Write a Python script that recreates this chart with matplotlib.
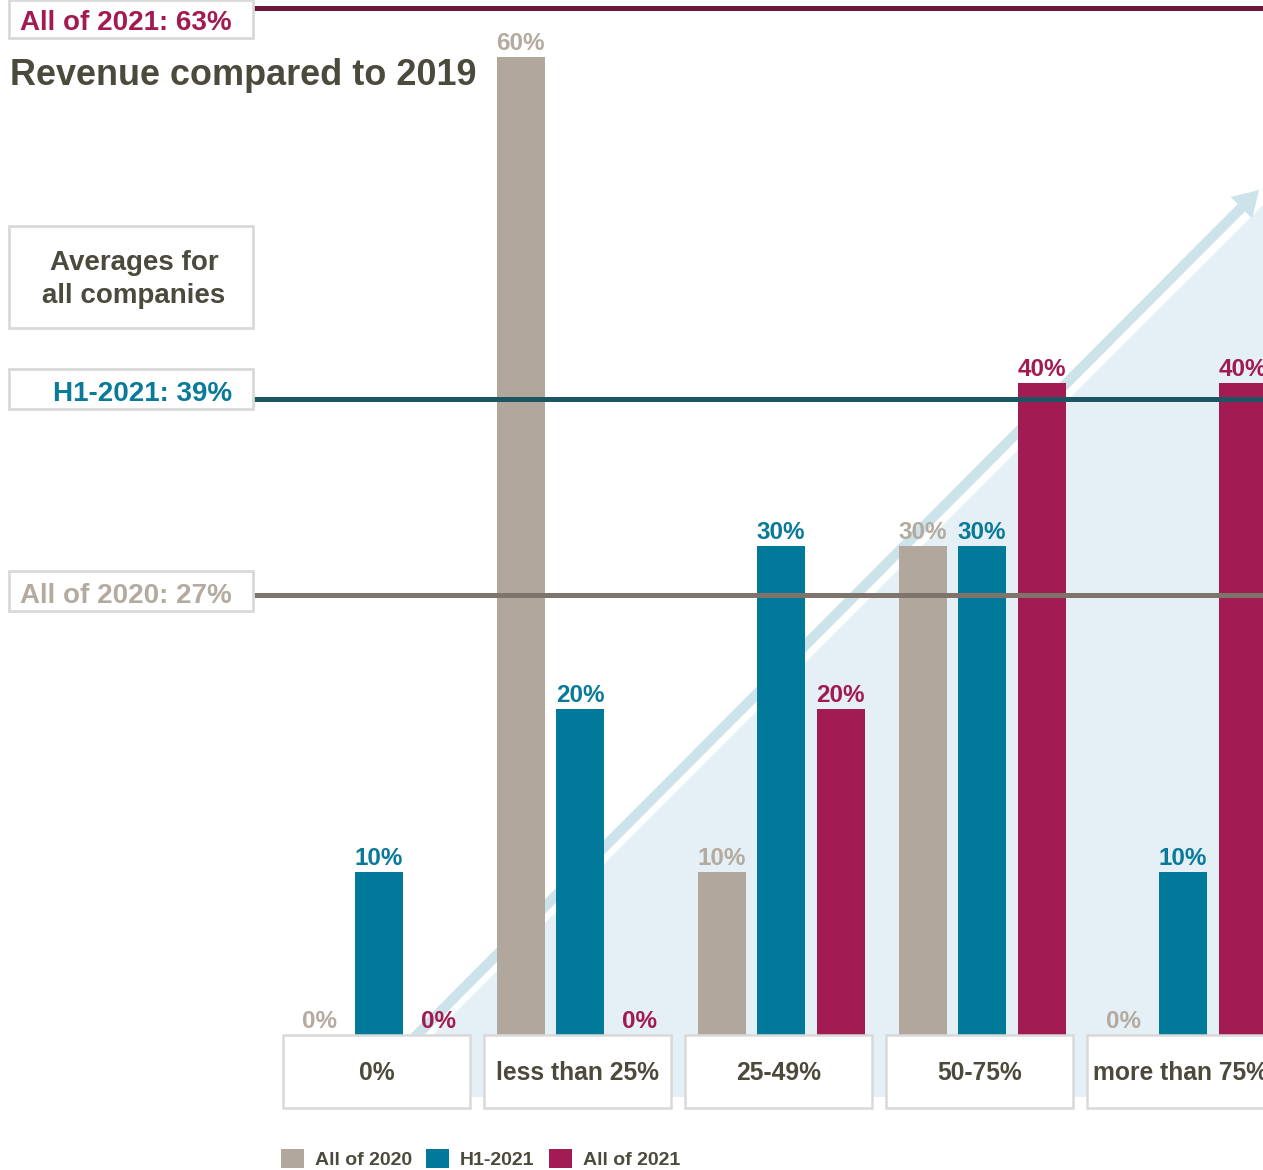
import numpy as np
import matplotlib
matplotlib.use("Agg")
import matplotlib.pyplot as plt
from matplotlib.patches import Rectangle, Polygon
import matplotlib.transforms as mtransforms

plt.rcParams["font.family"] = ["Liberation Sans", "DejaVu Sans"]
plt.rcParams["font.weight"] = "bold"

categories = ["0%", "less than 25%", "25-49%", "50-75%", "more than 75%"]
series_names = ["All of 2020", "H1-2021", "All of 2021"]
all_2020 = [0, 60, 10, 30, 0]
h1_2021 = [10, 20, 30, 30, 10]
all_2021 = [0, 0, 20, 40, 40]
avg_names = ["All of 2020", "H1-2021", "All of 2021"]
avg_values = [27, 39, 63]

bar_colors = ["#b2a79d", "#00799b", "#a21b53"]
label_colors = ["#b4aaa0", "#0a7a9a", "#a31a52"]
line_colors = ["#7f746b", "#1d5662", "#6b1538"]
text_dark = "#4b4a3c"
box_edge = "#d9d9d9"

W, H = 1263, 1170
fig = plt.figure(figsize=(W / 100, H / 100), dpi=100)

# axes: left edge at 283 px, zero line at 1035 px from the top
ax = fig.add_axes([283 / W, (H - 1035) / H, 980 / W, 1035 / H])
ax.set_xlim(-96 / 201, 884 / 201)
ax.set_ylim(0, 1035 / 16.3)
ax.axis("off")

# light blue rising wedge and arrow behind the bars
def axfrac(px, py):
    return ((px - 283) / 980, (1035 - py) / 1035)

shade = Polygon([axfrac(1263, 205), axfrac(1263, 1097), axfrac(371, 1097)],
                closed=True, transform=ax.transAxes, facecolor="#e4f0f5",
                edgecolor="none", clip_on=False, zorder=0)
ax.add_patch(shade)
ax.annotate("", xy=(1259, H - 190), xytext=(414, H - 1038),
            xycoords="figure pixels", textcoords="figure pixels",
            arrowprops=dict(arrowstyle="simple,head_length=0.9,head_width=1.1,tail_width=0.37",
                            mutation_scale=20, color="#cde3ea", lw=0,
                            shrinkA=0, shrinkB=0),
            zorder=0.5)

x = np.arange(len(categories))
width = 48 / 201
offset = 59.5 / 201
series = [all_2020, h1_2021, all_2021]
bars = []
for i, vals in enumerate(series):
    b = ax.bar(x + (i - 1) * offset, vals, width, color=bar_colors[i],
               label=series_names[i], zorder=2)
    bars.append(b)
    for xi, v in zip(x, vals):
        ax.annotate(f"{v}%", (xi + (i - 1) * offset, v), xytext=(0, 5),
                    textcoords="offset points", ha="center", va="baseline",
                    fontsize=17.5, color=label_colors[i], zorder=4,
                    annotation_clip=False)

# category boxes under the bars
trans = mtransforms.blended_transform_factory(ax.transData, ax.transAxes)
box_w = 187 / 201
for xi, cat in zip(x, categories):
    ax.add_patch(Rectangle((xi - 2.5 / 201 - box_w / 2, -73 / 1035), box_w, 73 / 1035,
                           transform=trans, facecolor="white", edgecolor=box_edge,
                           lw=1.8, clip_on=False, zorder=3))
    ax.text(xi - 2.5 / 201, -45 / 1035, cat, transform=trans, ha="center",
            va="baseline", fontsize=17.7, color=text_dark, zorder=4)

# average lines with their labels on the left
for name, v, lc, tc in zip(avg_names, avg_values, line_colors, label_colors):
    ax.axhline(v, xmin=-30 / 980, xmax=1, color=lc, lw=3.6, clip_on=False, zorder=3)

def fig_box(x0, y0, x1, y1):
    fig.add_artist(Rectangle((x0 / W, 1 - y1 / H), (x1 - x0) / W, (y1 - y0) / H,
                             transform=fig.transFigure, facecolor="white",
                             edgecolor=box_edge, lw=2))

label_boxes = [(571, 611, 603), (369, 409, 401), (0, 38, 30)]
for (y0, y1, base), name, v, tc in zip(label_boxes, avg_names, avg_values, label_colors):
    fig_box(9, y0, 253, y1)
    fig.text(232 / W, 1 - base / H, f"{name}: {v}%", ha="right", va="baseline",
             fontsize=20, color=tc)

fig_box(9, 226, 253, 328)
fig.text(134 / W, 1 - 270 / H, "Averages for", ha="center", va="baseline",
         fontsize=20, color=text_dark)
fig.text(134 / W, 1 - 303 / H, "all companies", ha="center", va="baseline",
         fontsize=20, color=text_dark)

fig.text(10 / W, 1 - 85 / H, "Revenue compared to 2019", ha="left", va="baseline",
         fontsize=25.9, color=text_dark)

leg = fig.legend(handles=bars, labels=series_names, ncol=3, frameon=False,
                 loc="lower left", bbox_to_anchor=(280 / W, 0.0),
                 borderpad=0.05, borderaxespad=0, fontsize=14,
                 handlelength=1.18, handleheight=1.18, handletextpad=0.57,
                 columnspacing=0.72)
for t in leg.get_texts():
    t.set_color(text_dark)

fig.savefig("out.png", dpi=100)
